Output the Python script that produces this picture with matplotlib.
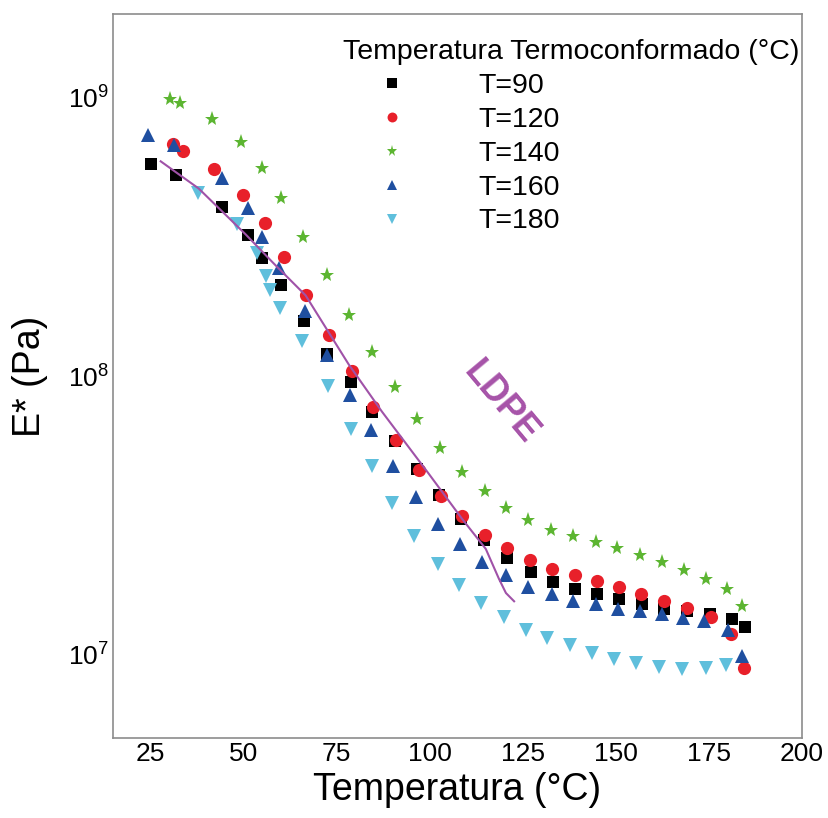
import matplotlib
matplotlib.use("Agg")
import matplotlib.pyplot as plt

plt.rcParams["font.family"] = ["Liberation Sans", "DejaVu Sans"]
plt.rcParams["mathtext.fontset"] = "custom"
plt.rcParams["mathtext.rm"] = "Liberation Sans"
plt.rcParams["mathtext.it"] = "Liberation Sans:italic"
plt.rcParams["mathtext.bf"] = "Liberation Sans:bold"

# datos (temperatura en °C, E* en Pa)
t_90 = [25.1, 31.8, 44.2, 51.2, 55.0, 60.0, 66.2, 72.4, 78.9, 84.5, 90.7, 96.6, 102.5, 108.4,
        114.6, 120.8, 127.2, 133.2, 139.1, 145.0, 150.9, 157.1, 163.0, 169.2, 175.3, 181.3, 184.8]
e_90 = [5.77e8, 5.26e8, 4.04e8, 3.20e8, 2.65e8, 2.12e8, 1.57e8, 1.20e8, 9.49e7, 7.45e7, 5.86e7,
        4.65e7, 3.75e7, 3.07e7, 2.58e7, 2.21e7, 1.98e7, 1.82e7, 1.72e7, 1.65e7, 1.58e7, 1.52e7,
        1.46e7, 1.43e7, 1.40e7, 1.34e7, 1.25e7]

t_120 = [31.0, 33.7, 42.0, 49.8, 55.7, 60.8, 66.7, 72.9, 79.1, 84.7, 90.9, 97.1, 103.0, 108.7,
         114.9, 120.8, 127.0, 132.9, 139.1, 145.0, 150.9, 156.8, 163.0, 169.2, 175.6, 181.0, 184.5]
e_120 = [6.81e8, 6.43e8, 5.53e8, 4.46e8, 3.54e8, 2.67e8, 1.95e8, 1.40e8, 1.04e8, 7.76e7, 5.90e7,
         4.60e7, 3.69e7, 3.13e7, 2.69e7, 2.40e7, 2.19e7, 2.03e7, 1.92e7, 1.84e7, 1.75e7, 1.65e7,
         1.55e7, 1.47e7, 1.36e7, 1.18e7, 8.94e6]

t_140 = [30.2, 33.1, 41.7, 49.5, 54.9, 60.0, 65.9, 72.4, 78.3, 84.5, 90.7, 96.6, 102.8, 108.7,
         114.9, 120.5, 126.4, 132.6, 138.5, 144.7, 150.3, 156.5, 162.4, 168.3, 174.2, 179.9, 183.9]
e_140 = [9.88e8, 9.56e8, 8.37e8, 6.92e8, 5.58e8, 4.35e8, 3.17e8, 2.30e8, 1.66e8, 1.22e8, 9.10e7,
         6.98e7, 5.53e7, 4.53e7, 3.87e7, 3.36e7, 3.04e7, 2.80e7, 2.67e7, 2.54e7, 2.40e7, 2.28e7,
         2.15e7, 2.01e7, 1.87e7, 1.72e7, 1.49e7]

t_160 = [24.5, 31.5, 44.2, 51.2, 54.9, 59.5, 66.5, 72.4, 78.6, 84.2, 90.1, 96.3, 102.2, 108.1,
         114.1, 120.5, 126.4, 132.9, 138.5, 144.7, 150.6, 156.5, 162.4, 168.1, 173.7, 180.2, 183.9]
e_160 = [7.33e8, 6.75e8, 5.13e8, 4.01e8, 3.17e8, 2.44e8, 1.71e8, 1.19e8, 8.58e7, 6.37e7, 4.73e7,
         3.66e7, 2.95e7, 2.48e7, 2.15e7, 1.92e7, 1.75e7, 1.64e7, 1.56e7, 1.51e7, 1.46e7, 1.43e7,
         1.39e7, 1.35e7, 1.32e7, 1.22e7, 9.89e6]

t_180 = [37.7, 48.2, 53.6, 56.0, 57.1, 59.8, 65.7, 72.7, 78.9, 84.5, 89.9, 95.8, 102.3, 107.9,
         113.8, 120.0, 125.9, 131.6, 137.8, 143.7, 149.6, 155.5, 161.5, 167.9, 174.1, 179.7]
e_180 = [4.53e8, 3.51e8, 2.76e8, 2.28e8, 2.03e8, 1.75e8, 1.34e8, 9.17e7, 6.47e7, 4.76e7, 3.51e7,
         2.67e7, 2.11e7, 1.78e7, 1.53e7, 1.36e7, 1.22e7, 1.14e7, 1.08e7, 1.01e7, 9.63e6, 9.32e6,
         9.02e6, 8.87e6, 8.94e6, 9.16e6]

# curva LDPE
t_ldpe = [27.8, 38.0, 50.6, 58.0, 66.7, 78.3, 87.2, 99.8, 108.7, 115.1, 118.6, 120.5, 122.7]
e_ldpe = [5.91e8, 4.72e8, 3.23e8, 2.55e8, 1.95e8, 1.10e8, 7.45e7, 4.45e7, 3.07e7, 2.39e7,
          1.87e7, 1.66e7, 1.55e7]

etiquetas = ["T=90", "T=120", "T=140", "T=160", "T=180"]
x_ticks = [25, 50, 75, 100, 125, 150, 175, 200]

fig = plt.figure(figsize=(8.29, 8.18), dpi=100)
ax = fig.add_axes([113 / 829, 1 - 738 / 818, 689 / 829, 724 / 818])

series = [
    (t_90, e_90, "s", "#000000", 9),
    (t_120, e_120, "o", "#e8202a", 9.5),
    (t_140, e_140, "*", "#5cb531", 11),
    (t_160, e_160, "^", "#1f4fa0", 9.5),
    (t_180, e_180, "v", "#5fbfdc", 9.5),
]
handles = []
for (t, e, m, c, ms), lab in zip(series, etiquetas):
    h, = ax.plot(t, e, ls="none", marker=m, color=c, ms=ms, mew=0, label=lab)
    handles.append(h)

ax.plot(t_ldpe, e_ldpe, color="#a052a8", lw=1.5)
ax.text(119, 8.0e7, "LDPE", rotation=-50, ha="center", va="center",
        rotation_mode="anchor", fontsize=26, fontweight="bold", color="#a652a8")

ax.set_yscale("log")
ax.set_xlim(15, 200)
ax.set_ylim(5e6, 2e9)
ax.set_xticks(x_ticks)
ax.minorticks_off()
ax.tick_params(length=0, labelsize=19, pad=3)
for s in ax.spines.values():
    s.set_color("#8c8c8c")
    s.set_linewidth(1.2)

ax.set_xlabel("Temperatura (°C)", fontsize=27, labelpad=4)
ax.set_ylabel("E* (Pa)", fontsize=27, labelpad=14)

leg = ax.legend(handles=handles, title="Temperatura Termoconformado (°C)", loc="upper left",
                bbox_to_anchor=(0.334, 0.966), frameon=False, fontsize=20.5, title_fontsize=20.5,
                alignment="left", numpoints=1, markerscale=0.75, handlelength=3.4,
                handletextpad=1.35, labelspacing=0.28, borderpad=0, borderaxespad=0)

fig.savefig("out.png", dpi=100)
